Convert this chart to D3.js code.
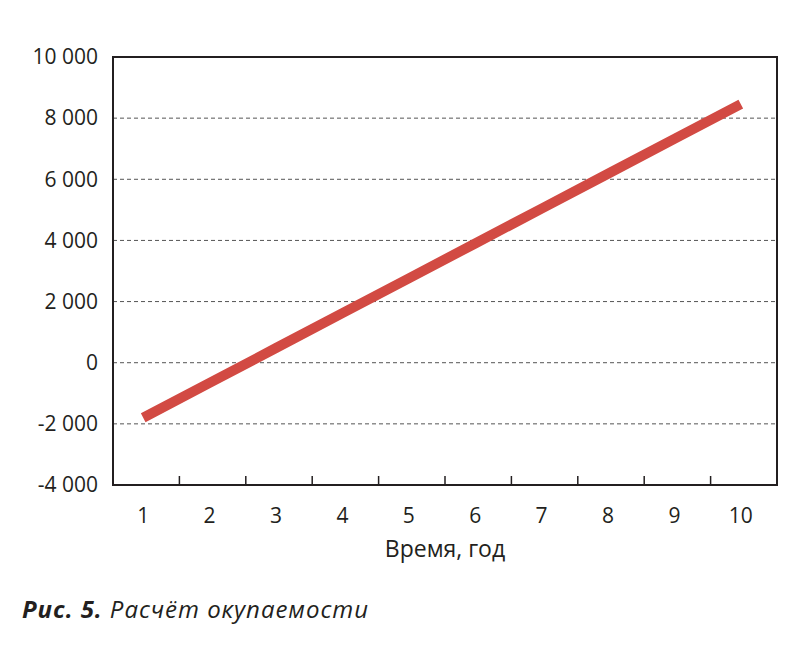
<!DOCTYPE html>
<html lang="ru">
<head>
<meta charset="utf-8">
<script src="https://d3js.org/d3.v7.min.js"></script>
<style>
  body { margin: 0; background: #fff; }
  text { font-family: "Open Sans", "DejaVu Sans", sans-serif; }
</style>
</head>
<body>
<script>
// данные
var years = ["1", "2", "3", "4", "5", "6", "7", "8", "9", "10"];
var values = [-1800, -660, 480, 1620, 2760, 3900, 5040, 6180, 7320, 8460];
var yTicks = [-4000, -2000, 0, 2000, 4000, 6000, 8000, 10000];

var W = 800, H = 654;
var margin = { top: 57, right: 23, bottom: 169, left: 113 };
var width = W - margin.left - margin.right,
    height = H - margin.top - margin.bottom;

var svg = d3.select("body").append("svg")
    .attr("width", W).attr("height", H);
var g = svg.append("g")
    .attr("transform", "translate(" + margin.left + "," + margin.top + ")");

var x = d3.scaleBand().domain(years).range([0, width]);
var y = d3.scaleLinear().domain([-4000, 10000]).range([height, 0]);

var fmt = function (d) { return d3.format(",")(d).replace(/,/g, " ").replace("−", "-"); };

// пунктирная сетка
g.selectAll(".grid")
    .data(yTicks.filter(function (d) { return d > -4000 && d < 10000; }))
    .enter().append("line")
    .attr("x1", 0).attr("x2", width)
    .attr("y1", function (d) { return y(d); })
    .attr("y2", function (d) { return y(d); })
    .attr("stroke", "#555").attr("stroke-width", 1)
    .attr("stroke-dasharray", "4,3");

// рамка
g.append("rect")
    .attr("width", width).attr("height", height)
    .attr("fill", "none").attr("stroke", "#231f20").attr("stroke-width", 2);

// подписи Y
g.selectAll(".ylab")
    .data(yTicks).enter().append("text")
    .attr("x", -15).attr("y", function (d) { return y(d); })
    .attr("dy", "0.35em").attr("text-anchor", "end")
    .attr("font-size", 21).attr("fill", "#231f20")
    .text(fmt);

// засечки X внутрь
g.selectAll(".xtick")
    .data(years.slice(1)).enter().append("line")
    .attr("x1", function (d) { return x(d); })
    .attr("x2", function (d) { return x(d); })
    .attr("y1", height).attr("y2", height - 9)
    .attr("stroke", "#231f20").attr("stroke-width", 1.5);

// подписи X
g.selectAll(".xlab")
    .data(years).enter().append("text")
    .attr("x", function (d) { return x(d) + x.bandwidth() / 2 - 3; })
    .attr("y", height + 38)
    .attr("text-anchor", "middle")
    .attr("font-size", 21).attr("fill", "#231f20")
    .text(function (d) { return d; });

// линия
var line = d3.line()
    .x(function (d, i) { return x(years[i]) + x.bandwidth() / 2 - 3; })
    .y(function (d) { return y(d); });
g.append("path")
    .datum(values)
    .attr("d", line)
    .attr("fill", "none")
    .attr("stroke", "#d24a43").attr("stroke-width", 10);

svg.append("text")
    .attr("x", 445).attr("y", 557)
    .attr("text-anchor", "middle")
    .attr("font-size", 23).attr("fill", "#231f20")
    .text("Время, год");

var cap = svg.append("text")
    .attr("x", 22).attr("y", 618)
    .attr("font-size", 24).attr("font-style", "italic").attr("fill", "#231f20")
    .attr("textLength", 346);
cap.append("tspan").attr("font-weight", "bold").text("Рис. 5.");
cap.append("tspan").text(" Расчёт окупаемости");
</script>
</body>
</html>
